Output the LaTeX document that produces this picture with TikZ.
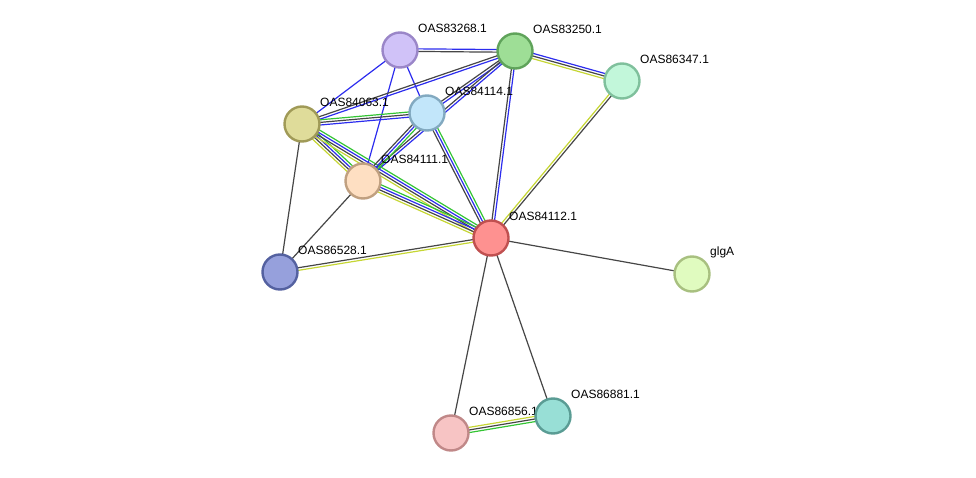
\documentclass[tikz,border=0pt]{standalone}
\usepackage{fontspec}
\setmainfont{Liberation Sans}
\usetikzlibrary{calc}
\pgfdeclarelayer{bg}
\pgfsetlayers{bg,main}

\definecolor{cBlue}{RGB}{44,44,238}
\definecolor{cDark}{RGB}{70,70,70}
\definecolor{cYel}{RGB}{198,214,52}
\definecolor{cGreen}{RGB}{52,196,52}
% node fills and borders
\definecolor{f83268}{RGB}{208,194,248}\definecolor{d83268}{RGB}{154,134,200}
\definecolor{f83250}{RGB}{158,222,150}\definecolor{d83250}{RGB}{95,163,90}
\definecolor{f86347}{RGB}{194,247,218}\definecolor{d86347}{RGB}{127,192,156}
\definecolor{f84063}{RGB}{223,220,154}\definecolor{d84063}{RGB}{160,154,87}
\definecolor{f84114}{RGB}{194,230,250}\definecolor{d84114}{RGB}{130,169,192}
\definecolor{f84111}{RGB}{254,223,194}\definecolor{d84111}{RGB}{192,160,128}
\definecolor{f84112}{RGB}{254,145,144}\definecolor{d84112}{RGB}{192,80,80}
\definecolor{f86528}{RGB}{150,160,220}\definecolor{d86528}{RGB}{84,97,160}
\definecolor{fglgA}{RGB}{224,251,191}\definecolor{dglgA}{RGB}{168,192,128}
\definecolor{f86856}{RGB}{247,196,196}\definecolor{d86856}{RGB}{192,136,136}
\definecolor{f86881}{RGB}{152,223,214}\definecolor{d86881}{RGB}{90,156,148}

\tikzset{
  prot/.style={circle, minimum size=35pt, inner sep=0pt, line width=2.4pt},
  lbl/.style={anchor=west, inner sep=0pt, font=\fontsize{12}{14}\selectfont},
  bl/.style={draw=cBlue, line width=1.2pt},
  dk/.style={draw=cDark, line width=1.2pt},
  ye/.style={draw=cYel, line width=1.2pt},
  gr/.style={draw=cGreen, line width=1.2pt}
}

% protein node with its label up right
\newcommand\prot[4]{%
  \node[prot, fill=f#2, draw=d#2] (#1) at (#3) {};
  \node[lbl] (#1-l) at ($(#1)+(18,-22)$) {#4};
}
% parallel evidence lines between two proteins
\newcommand\link[3]{%
  \foreach \c [count=\n] in {#3} {\xdef\nlines{\n}}%
  \foreach \c [count=\i] in {#3} {%
    \pgfmathsetmacro\off{(\i-(\nlines+1)/2)*2.6}%
    \draw[\c] ($(#1.center)!\off pt!90:(#2.center)$) -- ($(#2.center)!\off pt!-90:(#1.center)$);
  }%
}

\begin{document}
\begin{tikzpicture}[x=1pt,y=1pt,yscale=-1]
\useasboundingbox (0,0) rectangle (976,478);

% proteins
\prot{p83268}{83268}{400,50}{OAS83268.1}
\prot{p83250}{83250}{515,51}{OAS83250.1}
\prot{p86347}{86347}{622,81}{OAS86347.1}
\prot{p84063}{84063}{302,124}{OAS84063.1}
\prot{p84114}{84114}{427,113}{OAS84114.1}
\prot{p84111}{84111}{363,181}{OAS84111.1}
\prot{p84112}{84112}{491,238}{OAS84112.1}
\prot{p86528}{86528}{280,272}{OAS86528.1}
\prot{pglgA}{glgA}{692,274}{glgA}
\prot{p86856}{86856}{451,433}{OAS86856.1}
\prot{p86881}{86881}{553,416}{OAS86881.1}

% evidence edges
\begin{pgfonlayer}{bg}
\link{p83268}{p83250}{bl,dk}
\link{p83268}{p84063}{bl}
\link{p83268}{p84111}{bl}
\link{p83268}{p84114}{bl}
\link{p83250}{p86347}{bl,dk,ye}
\link{p83250}{p84063}{bl,dk}
\link{p83250}{p84114}{bl,dk}
\link{p83250}{p84111}{bl,dk}
\link{p83250}{p84112}{bl,dk}
\link{p86347}{p84112}{dk,ye}
\link{p84063}{p84114}{gr,dk,bl}
\link{p84063}{p84111}{gr,bl,dk,ye}
\link{p84063}{p84112}{gr,bl,dk,ye}
\link{p84063}{p86528}{dk}
\link{p84114}{p84111}{gr,bl,dk}
\link{p84114}{p84112}{gr,bl,dk}
\link{p84111}{p84112}{gr,bl,dk,ye}
\link{p84111}{p86528}{dk}
\link{p86528}{p84112}{dk,ye}
\link{p84112}{pglgA}{dk}
\link{p84112}{p86856}{dk}
\link{p84112}{p86881}{dk}
\link{p86856}{p86881}{ye,dk,gr}
\end{pgfonlayer}

\end{tikzpicture}
\end{document}
